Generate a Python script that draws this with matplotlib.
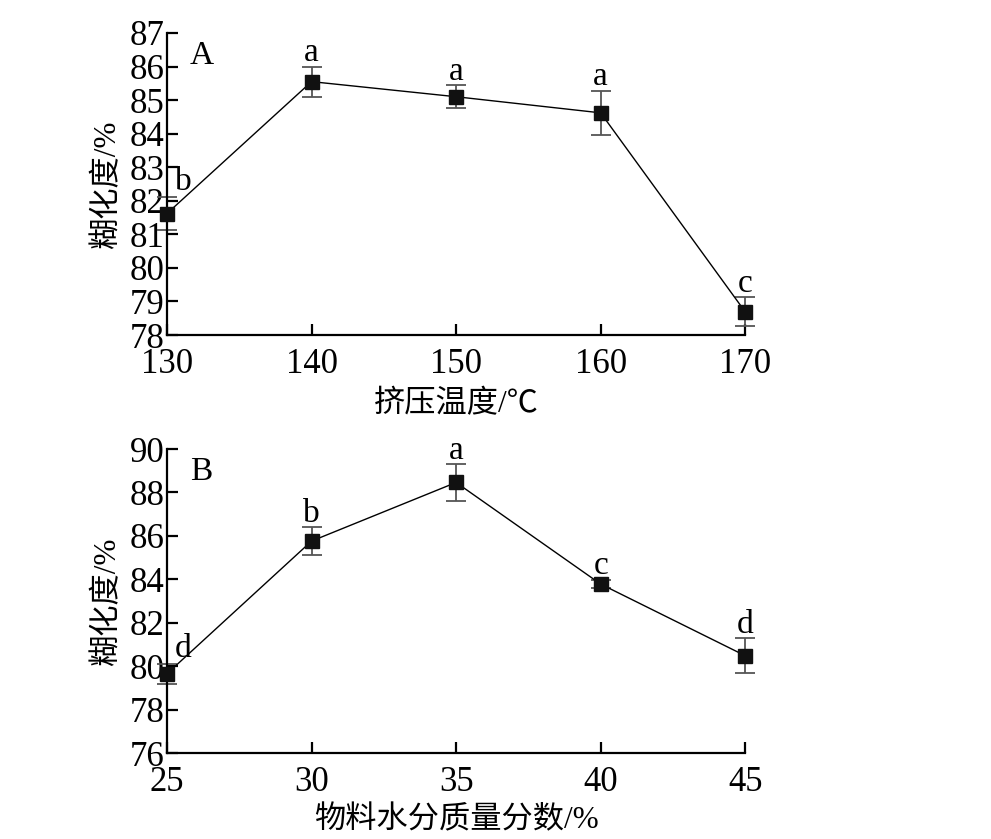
import numpy as np
import matplotlib
matplotlib.use('Agg')
import matplotlib.pyplot as plt

plt.rcParams['font.family'] = ['Liberation Serif', 'Noto Sans CJK SC', 'DejaVu Sans']

# 数据：挤压温度
temp_x = [130, 140, 150, 160, 170]
temp_y = [81.62, 85.55, 85.10, 84.62, 78.69]
temp_err = [0.5, 0.45, 0.35, 0.66, 0.43]
temp_sig = ['b', 'a', 'a', 'a', 'c']

# 数据：物料水分质量分数
water_x = [25, 30, 35, 40, 45]
water_y = [79.65, 85.76, 88.46, 83.78, 80.48]
water_err = [0.45, 0.64, 0.85, 0.2, 0.8]
water_sig = ['d', 'b', 'a', 'c', 'd']

fig = plt.figure(figsize=(9.91, 8.39), dpi=100)
ax1 = fig.add_axes([0.1685, 0.6007, 0.5835, 0.36])
ax2 = fig.add_axes([0.1685, 0.1025, 0.5835, 0.3623])

fs_num = 25    # 刻度数字
fs_cn = 22.5   # 中文标签
fs_sig = 24    # 显著性字母


def draw_panel(ax, x, y, err, sig, xlim, ylim, yticks, xlabel, tag, first_off, xpad):
    ax.errorbar(x, y, yerr=err, fmt='none', ecolor='#555555', elinewidth=1.3,
                capsize=7, capthick=1.3, clip_on=False, zorder=2)
    ax.plot(x, y, color='black', lw=1, marker='s', ms=9.5, mfc='#111111',
            mec='#111111', clip_on=False, zorder=3)
    span = ylim[1] - ylim[0]
    for i, (xi, yi, ei, s) in enumerate(zip(x, y, err, sig)):
        if i == 0:
            ax.text(xi + first_off, yi + ei, s, fontsize=fs_sig,
                    ha='center', va='bottom')
        else:
            ax.text(xi, yi + ei - 0.005 * span, s, fontsize=fs_sig,
                    ha='center', va='bottom')
    ax.set_xlim(*xlim)
    ax.set_ylim(*ylim)
    ax.set_xticks(x)
    ax.set_yticks(yticks)
    ax.spines['top'].set_visible(False)
    ax.spines['right'].set_visible(False)
    for sp in ['left', 'bottom']:
        ax.spines[sp].set_linewidth(1.6)
    ax.tick_params(direction='in', length=8, width=1.6, labelsize=fs_num)
    ax.tick_params(axis='x', pad=9)
    ax.tick_params(axis='y', pad=2)
    ax.set_xlabel(xlabel, fontsize=fs_cn, labelpad=xpad)
    ax.set_ylabel('糊化度/%', fontsize=fs_cn, labelpad=5)
    ax.text(0.04, 0.975, tag, transform=ax.transAxes, fontsize=fs_sig,
            ha='left', va='top')


draw_panel(ax1, temp_x, temp_y, temp_err, temp_sig, (130, 170), (78, 87),
           np.arange(78, 88, 1), '挤压温度/℃', 'A', 1.1, 7)
draw_panel(ax2, water_x, water_y, water_err, water_sig, (25, 45), (76, 90),
           np.arange(76, 91, 2), '物料水分质量分数/%', 'B', 0.55, 5)

fig.savefig('out.png', dpi=100)
